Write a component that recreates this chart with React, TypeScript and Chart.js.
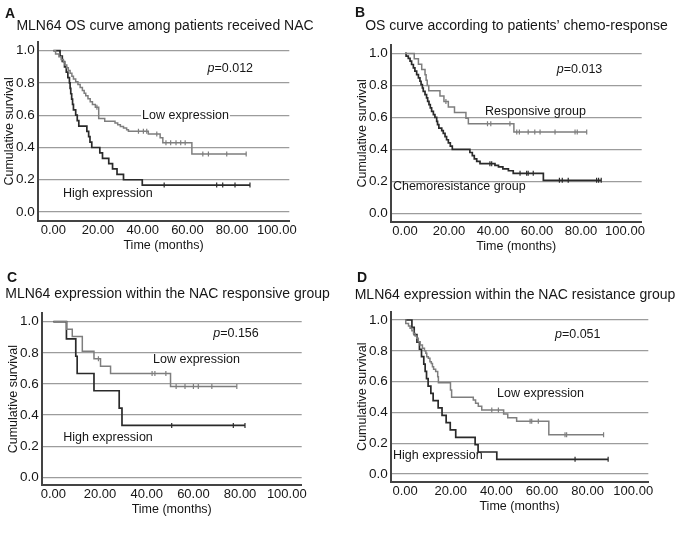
import React, { useEffect, useRef } from "react";
import { Chart, registerables } from "chart.js";

Chart.register(...registerables);

// ---------- axis ticks ----------
const yTicks = [0, 0.2, 0.4, 0.6, 0.8, 1.0];
const yTickLabels = ["0.0", "0.2", "0.4", "0.6", "0.8", "1.0"];
const xTicks = [0, 20, 40, 60, 80, 100];
const xTickLabels = ["0.00", "20.00", "40.00", "60.00", "80.00", "100.00"];

// ---------- Panel A : MLN64 OS among NAC patients ----------
const aLowTimes = [1.0, 2.5, 3.5, 4.5, 5.2, 6.0, 6.7, 7.5, 8.3, 9.0, 10.0, 11.0, 12.0, 13.0, 13.8, 14.5, 15.5, 16.5, 17.5, 18.8, 20.3, 23.0, 27.6, 28.8, 30.0, 31.4, 32.8, 33.6, 42.5, 47.8, 49.0, 62.0];
const aLowSurv = [0.98, 0.963, 0.945, 0.93, 0.912, 0.895, 0.877, 0.86, 0.842, 0.825, 0.807, 0.79, 0.772, 0.754, 0.737, 0.72, 0.702, 0.684, 0.667, 0.649, 0.58, 0.562, 0.552, 0.541, 0.53, 0.52, 0.51, 0.5, 0.483, 0.46, 0.43, 0.36];
const aLowCensor = [19.5, 38.1, 40.3, 41.8, 46.3, 50.4, 52.5, 54.9, 57.0, 59.0, 66.9, 69.4, 77.6, 86.3];
const aHighTimes = [3.0, 4.0, 5.0, 5.8, 6.5, 7.2, 7.5, 7.8, 8.2, 8.6, 9.0, 10.0, 10.7, 11.4, 15.0, 15.8, 16.4, 17.2, 20.8, 22.0, 24.8, 26.5, 28.5, 31.4, 39.8];
const aHighSurv = [0.967, 0.933, 0.9, 0.867, 0.833, 0.8, 0.767, 0.733, 0.7, 0.667, 0.633, 0.6, 0.567, 0.533, 0.5, 0.467, 0.433, 0.4, 0.367, 0.333, 0.3, 0.267, 0.233, 0.2, 0.167];
const aHighCensor = [49.6, 73.1, 75.8, 81.3, 88.0];

// ---------- Panel B : chemo-response ----------
const bRespTimes = [4.2, 6.1, 7.6, 9.1, 9.6, 10.1, 10.8, 15.9, 17.7, 19.7, 22.5, 27.7, 28.8, 49.5];
const bRespSurv = [0.967, 0.933, 0.9, 0.867, 0.833, 0.8, 0.767, 0.733, 0.7, 0.665, 0.63, 0.595, 0.56, 0.508];
const bRespCensor = [18.6, 37.5, 39.0, 47.7, 50.8, 52.0, 56.0, 59.0, 61.4, 68.2, 77.3, 78.3, 82.6];
const bChemoTimes = [0.5, 1.5, 2.3, 3.0, 3.8, 4.5, 5.3, 6.1, 6.8, 7.3, 7.9, 8.3, 9.1, 9.8, 10.3, 10.9, 11.5, 12.1, 12.9, 13.6, 14.4, 14.8, 15.4, 16.7, 17.4, 18.2, 18.9, 19.7, 20.6, 21.5, 29.5, 30.6, 31.5, 32.6, 34.1, 40.9, 42.5, 44.5, 47.0, 49.2, 62.9];
const bChemoSurv = [0.983, 0.969, 0.952, 0.931, 0.91, 0.889, 0.868, 0.847, 0.826, 0.805, 0.784, 0.763, 0.742, 0.722, 0.7, 0.68, 0.659, 0.638, 0.617, 0.6, 0.575, 0.554, 0.533, 0.517, 0.5, 0.48, 0.46, 0.44, 0.42, 0.4, 0.38, 0.36, 0.34, 0.325, 0.31, 0.3, 0.29, 0.278, 0.266, 0.25, 0.206];
const bChemoCensor = [38.6, 39.4, 52.3, 55.3, 56.0, 58.3, 70.2, 71.5, 74.2, 87.1, 88.0, 89.2];

// ---------- Panel C : NAC responsive group ----------
const cLowTimes = [5.7, 8.1, 12.4, 17.4, 20.2, 24.5, 50.2];
const cLowSurv = [0.952, 0.905, 0.81, 0.762, 0.714, 0.667, 0.583];
const cLowCensor = [19.3, 42.3, 43.5, 48.2, 52.6, 56.4, 60.0, 62.1, 67.9, 78.6];
const cHighTimes = [5.6, 9.6, 10.2, 17.4, 28.2, 29.4];
const cHighSurv = [0.889, 0.778, 0.667, 0.556, 0.444, 0.333];
const cHighCensor = [50.7, 77.1, 82.1];

// ---------- Panel D : NAC resistance group ----------
const dLowTimes = [0.3, 1.5, 2.2, 3.0, 3.7, 4.4, 5.1, 5.8, 6.6, 7.6, 8.5, 9.1, 9.5, 10.2, 10.9, 11.5, 12.0, 12.5, 13.4, 14.3, 14.6, 19.9, 20.4, 29.9, 30.9, 32.1, 33.6, 43.2, 45.0, 48.9, 63.0];
const dLowSurv = [0.978, 0.961, 0.946, 0.931, 0.913, 0.896, 0.881, 0.859, 0.838, 0.816, 0.8, 0.784, 0.762, 0.751, 0.729, 0.718, 0.697, 0.68, 0.665, 0.632, 0.593, 0.545, 0.498, 0.48, 0.46, 0.44, 0.416, 0.39, 0.365, 0.342, 0.255];
const dLowCensor = [38.0, 40.9, 54.8, 55.5, 58.4, 70.1, 70.8, 87.0];
const dHighTimes = [3.0, 4.0, 5.2, 6.3, 7.2, 8.2, 8.8, 9.4, 10.1, 11.3, 12.3, 14.5, 16.2, 18.0, 19.8, 22.2, 30.7, 32.0, 40.2];
const dHighSurv = [0.952, 0.905, 0.857, 0.81, 0.762, 0.714, 0.667, 0.619, 0.571, 0.524, 0.476, 0.429, 0.381, 0.333, 0.286, 0.238, 0.19, 0.143, 0.095];
const dHighCensor = [74.5, 89.0];

// ---------- styles ----------
const FONT = "'Liberation Sans', Arial, Helvetica, sans-serif";
const TEXT = "#161616";
const GRID = "#9c9c9c";
const AXIS = "#444444";
const LIGHT = "#7e7e7e";
const DARK = "#2a2a2a";

type Curve = { times: number[]; surv: number[]; censor: number[]; color: string; width: number };
type Label = { text: string; x: number; y: number; bg?: boolean };
type PanelCfg = {
  letter: string; title: string; pValue: string; pPos: [number, number];
  cx: number; cy: number; cw: number; ch: number;
  L: number; T: number; R: number; B: number;
  xMin: number; xMax: number; yMin: number; yMax: number;
  letterX: number; letterY: number; titleX: number; titleY: number;
  curves: Curve[]; labels: Label[];
};

const panels: PanelCfg[] = [
  {
    letter: "A", title: "MLN64 OS curve among patients received NAC", pValue: "=0.012", pPos: [69, 0.89],
    cx: 0, cy: 0, cw: 339, ch: 262, L: 37.7, T: 42, R: 289.3, B: 220.7,
    xMin: -7, xMax: 105.6, yMin: -0.054, yMax: 1.054,
    letterX: 5, letterY: 18, titleX: 165, titleY: 26.5,
    curves: [
      { times: aLowTimes, surv: aLowSurv, censor: aLowCensor, color: LIGHT, width: 1.5 },
      { times: aHighTimes, surv: aHighSurv, censor: aHighCensor, color: DARK, width: 1.7 },
    ],
    labels: [
      { text: "Low expression", x: 39.7, y: 0.595, bg: true },
      { text: "High expression", x: 4.3, y: 0.112 },
    ],
  },
  {
    letter: "B", title: "OS curve according to patients\u2019 chemo-response", pValue: "=0.013", pPos: [69, 0.9],
    cx: 339, cy: 0, cw: 339, ch: 262, L: 390.7, T: 45, R: 641.7, B: 221.7,
    xMin: -6.5, xMax: 107.6, yMin: -0.053, yMax: 1.053,
    letterX: 355, letterY: 17, titleX: 516.5, titleY: 26.5,
    curves: [
      { times: bRespTimes, surv: bRespSurv, censor: bRespCensor, color: LIGHT, width: 1.5 },
      { times: bChemoTimes, surv: bChemoSurv, censor: bChemoCensor, color: DARK, width: 1.7 },
    ],
    labels: [
      { text: "Responsive group", x: 36.4, y: 0.638 },
      { text: "Chemoresistance group", x: -5.5, y: 0.165 },
    ],
  },
  {
    letter: "C", title: "MLN64 expression within the NAC responsive group", pValue: "=0.156", pPos: [68.5, 0.925],
    cx: 0, cy: 262, cw: 339, ch: 276, L: 41.7, T: 313.3, R: 301.7, B: 485,
    xMin: -5, xMax: 106.4, yMin: -0.05, yMax: 1.054,
    letterX: 7, letterY: 282, titleX: 167.5, titleY: 294,
    curves: [
      { times: cLowTimes, surv: cLowSurv, censor: cLowCensor, color: LIGHT, width: 1.5 },
      { times: cHighTimes, surv: cHighSurv, censor: cHighCensor, color: DARK, width: 1.7 },
    ],
    labels: [
      { text: "Low expression", x: 42.7, y: 0.754 },
      { text: "High expression", x: 4.2, y: 0.253 },
    ],
  },
  {
    letter: "D", title: "MLN64 expression within the NAC resistance group", pValue: "=0.051", pPos: [65.7, 0.903],
    cx: 339, cy: 262, cw: 339, ch: 276, L: 390.7, T: 311.7, R: 648.3, B: 481.7,
    xMin: -6.3, xMax: 106.6, yMin: -0.05, yMax: 1.054,
    letterX: 357, letterY: 282, titleX: 515, titleY: 295,
    curves: [
      { times: dLowTimes, surv: dLowSurv, censor: dLowCensor, color: LIGHT, width: 1.5 },
      { times: dHighTimes, surv: dHighSurv, censor: dHighCensor, color: DARK, width: 1.7 },
    ],
    labels: [
      { text: "Low expression", x: 40.3, y: 0.524 },
      { text: "High expression", x: -5.3, y: 0.119 },
    ],
  },
];

function stepLine(c: Curve) {
  const pts = [{ x: 0, y: 1 }];
  c.times.forEach((t, i) => pts.push({ x: t, y: c.surv[i] }));
  const last = c.surv[c.surv.length - 1];
  const end = Math.max(c.times[c.times.length - 1], ...c.censor);
  pts.push({ x: end, y: last });
  return pts;
}

function survAt(c: Curve, t: number) {
  let s = 1;
  c.times.forEach((tt, i) => {
    if (tt <= t) s = c.surv[i];
  });
  return s;
}

const LABEL_SIZE = 12.5;

function panelPlugin(p: PanelCfg) {
  return {
    id: "panelText" + p.letter,
    beforeDatasetsDraw(chart: any) {
      const { ctx } = chart;
      const xs = chart.scales.x;
      const ys = chart.scales.y;
      ctx.save();
      ctx.font = `${LABEL_SIZE}px ${FONT}`;
      p.labels.forEach((l) => {
        if (!l.bg) return;
        const w = ctx.measureText(l.text).width;
        const px = xs.getPixelForValue(l.x);
        const py = ys.getPixelForValue(l.y);
        ctx.fillStyle = "#ffffff";
        ctx.fillRect(px - 1, py - 7, w + 2, 14);
      });
      ctx.restore();
    },
    afterDraw(chart: any) {
      const { ctx, chartArea: ca } = chart;
      const xs = chart.scales.x;
      const ys = chart.scales.y;
      ctx.save();
      ctx.fillStyle = TEXT;
      ctx.font = `bold 14px ${FONT}`;
      ctx.textAlign = "left";
      ctx.textBaseline = "alphabetic";
      ctx.fillText(p.letter, p.letterX - p.cx, p.letterY - p.cy);
      ctx.font = `14px ${FONT}`;
      ctx.textAlign = "center";
      ctx.textBaseline = "middle";
      ctx.fillText(p.title, p.titleX - p.cx, p.titleY - p.cy);
      ctx.font = `${LABEL_SIZE}px ${FONT}`;
      ctx.fillText("Time (months)", (ca.left + ca.right) / 2, ca.bottom + 25);
      ctx.save();
      ctx.translate(ca.left - 28, (ca.top + ca.bottom) / 2);
      ctx.rotate(-Math.PI / 2);
      ctx.fillText("Cumulative survival", 0, 0);
      ctx.restore();
      ctx.textAlign = "left";
      p.labels.forEach((l) => {
        ctx.fillText(l.text, xs.getPixelForValue(l.x), ys.getPixelForValue(l.y));
      });
      const px = xs.getPixelForValue(p.pPos[0]);
      const py = ys.getPixelForValue(p.pPos[1]);
      ctx.font = `italic ${LABEL_SIZE}px ${FONT}`;
      ctx.fillText("p", px, py);
      const pw = ctx.measureText("p").width;
      ctx.font = `${LABEL_SIZE}px ${FONT}`;
      ctx.fillText(p.pValue, px + pw, py);
      ctx.restore();
    },
  };
}

function buildConfig(p: PanelCfg): any {
  const yW = p.L - p.cx;
  const xH = 20;
  const datasets: any[] = [];
  p.curves.forEach((c) => {
    datasets.push({
      data: stepLine(c),
      stepped: "before",
      borderColor: c.color,
      borderWidth: c.width,
      pointRadius: 0,
      fill: false,
      tension: 0,
    });
    datasets.push({
      data: c.censor.map((t) => ({ x: t, y: survAt(c, t) })),
      showLine: false,
      pointStyle: "line",
      pointRotation: 90,
      pointRadius: 2.5,
      pointBorderColor: c.color,
      pointBorderWidth: 1.2,
      borderColor: c.color,
    });
  });
  return {
    type: "line",
    data: { datasets },
    options: {
      animation: false,
      responsive: false,
      maintainAspectRatio: false,
      events: [],
      layout: {
        padding: { left: 0, top: p.T - p.cy, right: p.cx + p.cw - p.R, bottom: p.cy + p.ch - p.B - xH },
      },
      plugins: { legend: { display: false }, tooltip: { enabled: false }, title: { display: false } },
      scales: {
        x: {
          type: "linear",
          min: p.xMin,
          max: p.xMax,
          afterBuildTicks: (s: any) => {
            s.ticks = xTicks.map((v) => ({ value: v }));
          },
          afterFit: (s: any) => {
            s.height = xH;
          },
          grid: { display: false, drawTicks: false },
          border: { display: true, color: AXIS, width: 2 },
          ticks: {
            autoSkip: false,
            maxRotation: 0,
            padding: 2,
            color: TEXT,
            font: { family: FONT, size: 13 },
            callback: (_v: any, i: number) => xTickLabels[i],
          },
        },
        y: {
          type: "linear",
          min: p.yMin,
          max: p.yMax,
          afterBuildTicks: (s: any) => {
            s.ticks = yTicks.map((v) => ({ value: v }));
          },
          afterFit: (s: any) => {
            s.width = yW;
          },
          grid: { color: GRID, lineWidth: 1.2, drawTicks: false },
          border: { display: true, color: AXIS, width: 2 },
          ticks: {
            autoSkip: false,
            padding: 3,
            color: TEXT,
            font: { family: FONT, size: 13.5 },
            callback: (_v: any, i: number) => yTickLabels[i],
          },
        },
      },
    },
    plugins: [panelPlugin(p)],
  };
}

function Panel({ cfg }: { cfg: PanelCfg }) {
  const ref = useRef<HTMLCanvasElement>(null);
  useEffect(() => {
    const chart = new Chart(ref.current as HTMLCanvasElement, buildConfig(cfg));
    return () => chart.destroy();
  }, [cfg]);
  return (
    <canvas
      ref={ref}
      width={cfg.cw}
      height={cfg.ch}
      style={{ position: "absolute", left: cfg.cx, top: cfg.cy, width: cfg.cw, height: cfg.ch }}
    />
  );
}

export default function App() {
  return (
    <div style={{ position: "absolute", left: 0, top: 0, width: 678, height: 538, background: "#ffffff", overflow: "hidden" }}>
      {panels.map((p) => (
        <Panel key={p.letter} cfg={p} />
      ))}
    </div>
  );
}
